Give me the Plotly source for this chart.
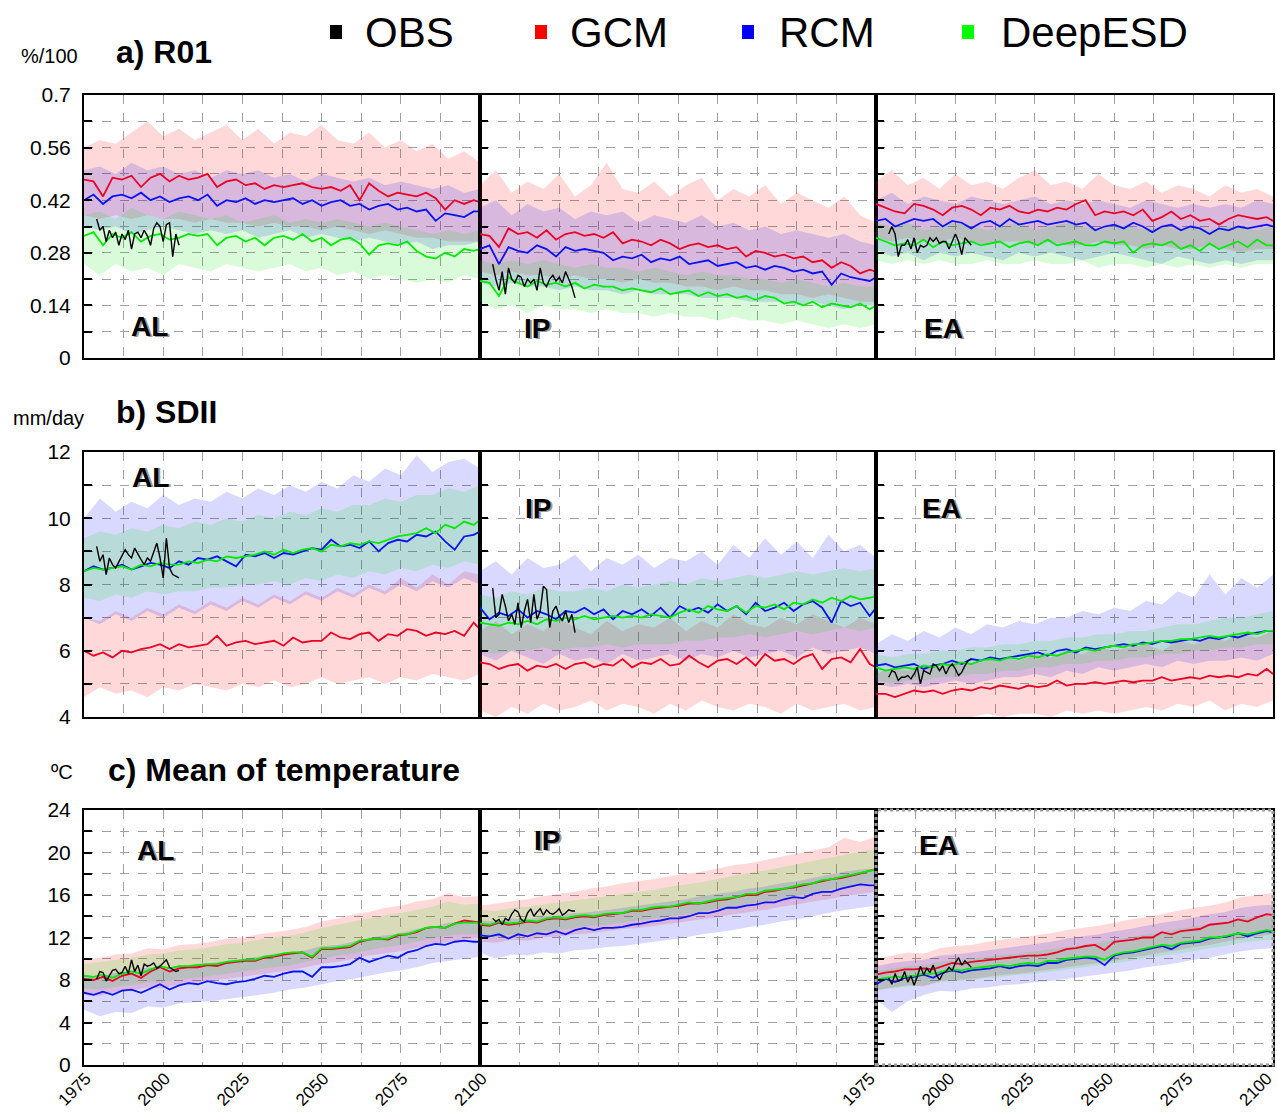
import plotly.graph_objects as go

W, H = 1277, 1115

# ---------------- data ----------------
YEARS_LINE = list(range(1975, 2099, 3)) + [2100]
YEARS_BAND = list(range(1975, 2101, 5))
YEARS_OBS = list(range(1979, 2006))

X_TICKS = [1975, 2000, 2025, 2050, 2075, 2100]
R01_TICKS = [0, 0.14, 0.28, 0.42, 0.56, 0.7]
R01_TICKTEXT = ["0", "0.14", "0.28", "0.42", "0.56", "0.7"]
SDII_TICKS = [4, 6, 8, 10, 12]
TMEAN_TICKS = [0, 4, 8, 12, 16, 20, 24]

REGIONS = ["AL", "IP", "EA"]
SERIES = ["OBS", "GCM", "RCM", "DeepESD"]

# ---- a) R01 ----
R01_AL_GCM = [.475, .47, .43, .48, .475, .485, .455, .48, .49, .47,
              .485, .475, .48, .49, .455, .47, .475, .46, .465, .45,
              .46, .455, .46, .465, .455, .45, .455, .445, .46, .42,
              .465, .445, .43, .44, .435, .43, .44, .425, .395, .42,
              .41, .42, .415]
R01_AL_RCM = [.42, .435, .41, .43, .435, .425, .44, .42, .43, .415,
              .425, .43, .42, .435, .405, .42, .415, .425, .41, .42,
              .415, .42, .425, .41, .42, .405, .415, .42, .405, .41,
              .395, .405, .41, .395, .40, .39, .395, .365, .385, .38,
              .375, .39, .39]
R01_AL_ESD = [.325, .335, .30, .33, .32, .335, .31, .325, .33, .315,
              .32, .33, .325, .33, .30, .32, .325, .31, .32, .30,
              .32, .325, .315, .33, .31, .32, .30, .315, .32, .305,
              .275, .30, .305, .30, .31, .285, .27, .265, .28, .27,
              .29, .285, .29]
R01_AL_OBS = [.37, .34, .35, .31, .34, .32, .335, .30, .33, .315,
              .34, .29, .33, .335, .32, .34, .325, .30, .345, .36,
              .35, .31, .355, .36, .27, .33, .30]
R01_AL_GCM_HI = [.56, .58, .57, .60, .63, .59, .61, .58, .60, .62, .58, .61, .57,
                 .60, .59, .62, .58, .57, .60, .56, .58, .55, .57, .53, .55, .52]
R01_AL_GCM_LO = [.38, .37, .38, .37, .38, .37, .37, .36, .37, .36, .36, .35, .36,
                 .35, .35, .34, .35, .34, .33, .34, .33, .32, .32, .31, .31, .31]
R01_AL_RCM_HI = [.50, .51, .49, .52, .50, .51, .49, .50, .48, .50, .49, .50, .48,
                 .49, .47, .49, .48, .47, .48, .46, .47, .46, .45, .46, .44, .45]
R01_AL_RCM_LO = [.35, .34, .35, .33, .34, .35, .34, .33, .34, .33, .34, .32, .33,
                 .34, .32, .33, .32, .31, .32, .31, .30, .31, .29, .30, .30, .31]
R01_AL_ESD_HI = [.38, .39, .37, .40, .38, .37, .39, .38, .37, .38, .36, .37, .38,
                 .36, .37, .36, .37, .36, .35, .36, .35, .34, .33, .34, .33, .34]
R01_AL_ESD_LO = [.25, .22, .25, .23, .24, .22, .25, .24, .23, .25, .24, .23, .24,
                 .25, .23, .24, .22, .23, .21, .22, .21, .20, .21, .20, .22, .21]

R01_IP_GCM = [.33, .325, .295, .345, .33, .335, .32, .34, .315, .33,
              .335, .325, .33, .32, .335, .305, .315, .31, .30, .315,
              .305, .29, .30, .305, .295, .30, .29, .295, .27, .285,
              .28, .27, .275, .265, .27, .255, .26, .24, .255, .245,
              .225, .235, .23]
R01_IP_RCM = [.29, .30, .25, .295, .285, .28, .30, .29, .27, .295,
              .285, .29, .285, .28, .26, .27, .265, .275, .255, .265,
              .26, .27, .25, .255, .26, .245, .25, .255, .24, .245,
              .235, .245, .24, .23, .235, .225, .23, .195, .225, .215,
              .21, .205, .215]
R01_IP_ESD = [.205, .20, .165, .215, .20, .19, .205, .195, .20, .19,
              .20, .185, .195, .19, .19, .18, .185, .18, .175, .185,
              .17, .175, .18, .165, .175, .165, .17, .16, .165, .155,
              .165, .16, .145, .15, .14, .15, .135, .145, .14, .135,
              .145, .13, .14]
R01_IP_OBS = [.25, .21, .18, .23, .17, .24, .21, .20, .22, .215,
              .19, .21, .20, .21, .18, .24, .20, .19, .21, .22,
              .205, .215, .20, .23, .21, .19, .16]
R01_IP_GCM_HI = [.46, .50, .44, .47, .45, .49, .43, .46, .52, .45, .44, .47, .43,
                 .46, .48, .42, .45, .43, .46, .41, .44, .42, .40, .43, .38, .36]
R01_IP_GCM_LO = [.23, .22, .23, .22, .22, .21, .22, .21, .21, .20, .21, .20, .20,
                 .19, .19, .18, .19, .18, .18, .17, .17, .16, .17, .16, .15, .15]
R01_IP_RCM_HI = [.40, .42, .38, .41, .39, .40, .37, .39, .38, .39, .36, .38, .37,
                 .36, .38, .35, .36, .34, .35, .33, .34, .33, .32, .33, .31, .30]
R01_IP_RCM_LO = [.20, .19, .20, .19, .19, .18, .19, .18, .18, .17, .18, .17, .17,
                 .17, .16, .16, .16, .15, .15, .15, .14, .15, .14, .13, .14, .14]
R01_IP_ESD_HI = [.26, .25, .26, .25, .26, .25, .24, .25, .24, .24, .23, .24, .23,
                 .22, .23, .22, .22, .21, .21, .20, .21, .20, .19, .20, .19, .19]
R01_IP_ESD_LO = [.15, .13, .14, .12, .14, .13, .13, .12, .13, .12, .12, .11, .12,
                 .11, .11, .10, .11, .10, .10, .09, .10, .09, .08, .09, .08, .09]

R01_EA_GCM = [.41, .40, .39, .385, .41, .405, .395, .38, .40, .405,
              .395, .38, .40, .395, .405, .39, .385, .395, .39, .40,
              .395, .41, .42, .38, .39, .385, .39, .38, .395, .365,
              .375, .39, .37, .38, .365, .37, .355, .37, .38, .375,
              .37, .375, .365]
R01_EA_RCM = [.365, .37, .35, .36, .37, .365, .37, .35, .365, .36,
              .345, .36, .365, .35, .37, .355, .36, .365, .355, .36,
              .365, .355, .36, .34, .35, .355, .345, .36, .35, .335,
              .35, .355, .34, .35, .345, .33, .345, .34, .35, .345,
              .35, .355, .35]
R01_EA_ESD = [.32, .31, .30, .305, .30, .315, .295, .31, .30, .305,
              .31, .30, .305, .31, .295, .305, .31, .30, .315, .30,
              .305, .31, .30, .30, .31, .305, .31, .28, .30, .305,
              .30, .31, .29, .30, .285, .305, .29, .30, .31, .295,
              .315, .30, .30]
R01_EA_OBS = [.33, .35, .33, .27, .30, .30, .315, .29, .32, .28,
              .30, .295, .30, .32, .31, .32, .305, .31, .31, .29,
              .31, .33, .31, .275, .32, .31, .30]
R01_EA_GCM_HI = [.47, .50, .46, .48, .45, .49, .46, .47, .45, .48, .50, .46, .47,
                 .45, .49, .46, .45, .47, .44, .46, .45, .43, .46, .44, .45, .43]
R01_EA_GCM_LO = [.32, .31, .32, .31, .31, .32, .31, .30, .31, .31, .30, .31, .30,
                 .30, .31, .30, .30, .29, .30, .29, .29, .30, .29, .28, .29, .29]
R01_EA_RCM_HI = [.42, .44, .41, .43, .42, .41, .43, .42, .41, .42, .43, .41, .42,
                 .41, .42, .41, .40, .42, .41, .40, .41, .40, .41, .40, .42, .41]
R01_EA_RCM_LO = [.29, .27, .28, .26, .28, .27, .28, .27, .26, .28, .27, .28, .27,
                 .26, .27, .28, .27, .26, .25, .27, .26, .25, .26, .25, .26, .26]
R01_EA_ESD_HI = [.36, .35, .36, .34, .35, .36, .35, .34, .35, .36, .34, .35, .36,
                 .35, .34, .35, .35, .34, .35, .34, .35, .34, .35, .35, .34, .35]
R01_EA_ESD_LO = [.26, .25, .26, .25, .26, .25, .25, .26, .25, .25, .26, .25, .25,
                 .26, .24, .25, .25, .24, .25, .24, .25, .24, .25, .24, .25, .25]

# ---- b) SDII ----
SDII_AL_GCM = [6.0, 5.85, 5.95, 5.8, 6.0, 5.95, 6.05, 6.1, 6.2, 6.05,
               6.2, 6.1, 6.15, 6.2, 6.45, 6.15, 6.25, 6.3, 6.2, 6.25,
               6.3, 6.15, 6.4, 6.25, 6.3, 6.3, 6.55, 6.4, 6.35, 6.5,
               6.55, 6.3, 6.5, 6.45, 6.65, 6.6, 6.45, 6.55, 6.5, 6.6,
               6.45, 6.85, 6.65]
SDII_AL_RCM = [8.4, 8.55, 8.45, 8.5, 8.6, 8.45, 8.55, 8.65, 8.6, 8.5,
               8.7, 8.6, 8.8, 8.75, 8.85, 8.7, 8.55, 8.9, 8.85, 8.95,
               8.8, 8.95, 8.9, 9.0, 9.1, 9.05, 9.35, 9.15, 9.2, 9.1,
               9.3, 9.0, 9.25, 9.35, 9.3, 9.5, 9.45, 9.6, 9.3, 9.05,
               9.45, 9.5, 9.6]
SDII_AL_ESD = [8.4, 8.5, 8.45, 8.5, 8.55, 8.45, 8.6, 8.55, 8.65, 8.6,
               8.6, 8.7, 8.65, 8.75, 8.7, 8.85, 8.8, 8.85, 8.9, 9.0,
               8.9, 9.05, 8.95, 9.05, 9.1, 9.0, 9.2, 9.15, 9.25, 9.2,
               9.3, 9.25, 9.35, 9.45, 9.5, 9.55, 9.7, 9.55, 9.8, 9.7,
               9.9, 9.8, 9.95]
SDII_AL_OBS = [9.15, 8.7, 8.9, 8.3, 8.8, 8.6, 8.5, 8.7, 8.9, 9.05,
               8.9, 8.8, 9.1, 8.9, 8.75, 8.6, 8.8, 8.7, 9.0, 9.25,
               8.8, 8.2, 9.4, 8.5, 8.3, 8.25, 8.2]
SDII_AL_GCM_HI = [7.0, 6.9, 7.2, 7.0, 7.3, 7.1, 7.4, 7.2, 7.5, 7.3, 7.6, 7.4, 7.7,
                  7.5, 7.8, 7.6, 7.9, 7.7, 8.0, 7.8, 8.2, 7.9, 8.3, 8.0, 8.4, 8.3]
SDII_AL_GCM_LO = [4.6, 4.9, 4.7, 4.8, 4.6, 4.9, 4.8, 5.0, 4.9, 4.8, 5.0, 4.9, 5.1,
                  4.9, 5.0, 5.2, 5.0, 5.1, 5.2, 5.0, 5.2, 5.1, 5.3, 5.2, 5.1, 5.3]
SDII_AL_RCM_HI = [10.0, 10.6, 10.2, 10.5, 10.3, 10.7, 10.4, 10.6, 10.5, 10.8, 10.6, 10.9, 10.7,
                  11.0, 10.8, 11.1, 10.9, 11.3, 11.1, 11.5, 11.3, 11.9, 11.4, 11.7, 11.8, 11.5]
SDII_AL_RCM_LO = [7.0, 6.8, 7.1, 6.9, 7.2, 7.0, 7.3, 7.1, 7.4, 7.2, 7.5, 7.3, 7.6,
                  7.4, 7.7, 7.5, 7.8, 7.6, 7.9, 7.7, 8.0, 7.8, 8.1, 7.9, 8.2, 8.0]
SDII_AL_ESD_HI = [9.4, 9.6, 9.5, 9.7, 9.6, 9.8, 9.7, 9.9, 9.8, 10.0, 9.9, 10.1, 10.0,
                  10.2, 10.1, 10.3, 10.2, 10.4, 10.4, 10.6, 10.5, 10.7, 10.7, 10.9, 10.8, 11.0]
SDII_AL_ESD_LO = [7.6, 7.5, 7.7, 7.6, 7.8, 7.7, 7.8, 7.8, 7.9, 7.9, 8.0, 8.0, 8.1,
                  8.0, 8.2, 8.1, 8.3, 8.2, 8.4, 8.3, 8.5, 8.4, 8.6, 8.5, 8.7, 8.6]

SDII_IP_GCM = [5.65, 5.6, 5.45, 5.55, 5.6, 5.4, 5.55, 5.5, 5.6, 5.45,
               5.6, 5.65, 5.5, 5.6, 5.55, 5.75, 5.5, 5.65, 5.6, 5.75,
               5.55, 5.6, 5.85, 5.65, 5.5, 5.7, 5.75, 5.6, 5.8, 5.55,
               5.9, 5.7, 5.75, 5.6, 5.8, 5.9, 5.45, 5.75, 5.8, 5.65,
               6.05, 5.6, 5.5]
SDII_IP_RCM = [7.3, 6.95, 7.15, 7.05, 7.25, 7.0, 7.2, 7.1, 6.95, 7.2,
               7.15, 7.3, 7.1, 7.25, 6.95, 7.2, 7.1, 7.25, 7.05, 7.3,
               7.0, 7.35, 7.2, 7.3, 7.15, 7.4, 7.2, 7.35, 7.1, 7.45,
               7.2, 7.3, 7.45, 7.2, 7.4, 7.5, 7.3, 6.85, 7.5, 7.35,
               7.45, 7.05, 7.3]
SDII_IP_ESD = [6.85, 6.8, 6.75, 6.85, 6.8, 6.9, 6.8, 6.95, 6.9, 7.0,
               6.95, 7.05, 6.95, 7.0, 7.05, 7.0, 7.05, 7.0, 7.1, 7.05,
               7.0, 7.15, 7.25, 7.15, 7.35, 7.25, 7.2, 7.35, 7.15, 7.35,
               7.3, 7.4, 7.25, 7.45, 7.4, 7.55, 7.45, 7.6, 7.5, 7.65,
               7.55, 7.6, 7.65]
SDII_IP_OBS = [7.9, 7.0, 7.1, 7.7, 7.35, 6.9, 7.1, 6.8, 7.45, 6.7,
               7.2, 7.55, 6.85, 7.7, 6.95, 7.2, 7.95, 7.85, 6.7, 7.2,
               7.35, 7.05, 6.9, 7.2, 6.85, 7.1, 6.55]
SDII_IP_GCM_HI = [6.6, 6.9, 6.5, 6.8, 6.6, 7.0, 6.7, 6.5, 6.9, 6.6, 6.8, 6.7, 7.0,
                  6.6, 6.9, 6.7, 7.1, 6.8, 6.7, 7.0, 6.8, 7.1, 6.9, 6.7, 7.0, 6.8]
SDII_IP_GCM_LO = [4.2, 4.0, 4.3, 4.1, 4.4, 4.2, 4.3, 4.5, 4.2, 4.4, 4.3, 4.1, 4.4,
                  4.2, 4.5, 4.3, 4.2, 4.4, 4.3, 4.1, 4.4, 4.2, 4.3, 4.4, 4.2, 4.3]
SDII_IP_RCM_HI = [8.4, 8.7, 8.3, 8.8, 8.5, 8.6, 8.9, 8.4, 8.8, 8.6, 8.9, 8.5, 8.8,
                  8.7, 9.0, 8.6, 9.2, 8.8, 9.4, 8.9, 9.3, 8.8, 9.5, 9.0, 9.2, 8.8]
SDII_IP_RCM_LO = [5.9, 5.7, 6.0, 5.8, 5.6, 5.9, 5.7, 5.8, 5.6, 5.9, 5.7, 5.8, 5.9,
                  5.7, 5.9, 5.8, 6.0, 5.8, 5.9, 6.0, 5.8, 6.1, 5.9, 6.0, 6.1, 5.9]
SDII_IP_ESD_HI = [7.7, 7.6, 7.8, 7.7, 7.9, 7.8, 7.8, 7.9, 7.8, 8.0, 7.9, 8.0, 8.1,
                  8.0, 8.2, 8.1, 8.2, 8.3, 8.2, 8.3, 8.4, 8.3, 8.4, 8.5, 8.4, 8.5]
SDII_IP_ESD_LO = [6.0, 5.9, 6.0, 6.0, 6.1, 6.0, 6.1, 6.1, 6.2, 6.1, 6.2, 6.2, 6.2,
                  6.3, 6.3, 6.4, 6.4, 6.5, 6.4, 6.5, 6.6, 6.5, 6.6, 6.7, 6.6, 6.7]

SDII_EA_GCM = [4.7, 4.7, 4.6, 4.7, 4.8, 4.75, 4.8, 4.7, 4.8, 4.85,
               4.8, 4.9, 4.85, 4.95, 4.9, 4.85, 4.95, 4.9, 4.95, 5.1,
               4.95, 5.0, 5.0, 5.05, 5.0, 5.05, 5.1, 5.05, 5.1, 5.1,
               5.2, 5.1, 5.15, 5.2, 5.15, 5.25, 5.2, 5.25, 5.2, 5.3,
               5.25, 5.45, 5.3]
SDII_EA_RCM = [5.55, 5.6, 5.5, 5.55, 5.6, 5.45, 5.55, 5.6, 5.7, 5.6,
               5.75, 5.7, 5.8, 5.75, 5.8, 5.85, 5.9, 5.95, 5.85, 6.0,
               6.05, 5.95, 6.1, 6.05, 6.1, 6.15, 6.2, 6.15, 6.25, 6.2,
               6.3, 6.25, 6.3, 6.35, 6.3, 6.4, 6.35, 6.45, 6.4, 6.5,
               6.55, 6.6, 6.6]
SDII_EA_ESD = [5.5, 5.4, 5.45, 5.5, 5.45, 5.55, 5.5, 5.6, 5.55, 5.65,
               5.6, 5.7, 5.75, 5.7, 5.8, 5.75, 5.85, 5.8, 5.9, 5.85,
               5.95, 6.0, 6.05, 6.0, 6.1, 6.15, 6.1, 6.2, 6.2, 6.25,
               6.3, 6.3, 6.35, 6.35, 6.4, 6.45, 6.4, 6.45, 6.5, 6.55,
               6.5, 6.6, 6.6]
SDII_EA_OBS = [5.2, 5.4, 5.35, 5.1, 5.2, 5.2, 5.25, 5.15, 5.3, 5.5,
               5.0, 5.4, 5.35, 5.3, 5.6, 5.55, 5.4, 5.55, 5.3, 5.5,
               5.6, 5.45, 5.25, 5.35, 5.55, 5.7, 5.75]
SDII_EA_GCM_HI = [5.3, 5.5, 5.4, 5.6, 5.5, 5.7, 5.6, 5.7, 5.8, 5.7, 5.9, 5.8, 6.0,
                  5.9, 6.1, 6.0, 6.1, 6.2, 6.0, 6.3, 6.2, 6.4, 6.3, 6.5, 6.4, 6.6]
SDII_EA_GCM_LO = [3.9, 3.9, 4.0, 3.9, 4.0, 4.0, 4.0, 4.1, 4.0, 4.1, 4.1, 4.0, 4.2,
                  4.1, 4.2, 4.1, 4.2, 4.3, 4.2, 4.4, 4.3, 4.5, 4.2, 4.4, 4.3, 4.5]
SDII_EA_RCM_HI = [6.2, 6.5, 6.3, 6.6, 6.4, 6.7, 6.5, 6.8, 6.7, 6.9, 6.8, 7.0, 7.0,
                  7.2, 7.1, 7.3, 7.2, 7.5, 7.4, 7.8, 7.6, 8.3, 7.7, 8.2, 7.9, 8.3]
SDII_EA_RCM_LO = [5.0, 4.9, 5.0, 4.9, 5.0, 5.1, 5.0, 5.1, 5.2, 5.2, 5.3, 5.2, 5.4,
                  5.3, 5.5, 5.4, 5.5, 5.6, 5.5, 5.7, 5.6, 5.7, 5.7, 5.8, 5.7, 5.9]
SDII_EA_ESD_HI = [5.9, 5.8, 5.9, 5.9, 6.0, 6.0, 6.1, 6.1, 6.2, 6.2, 6.3, 6.3, 6.4,
                  6.4, 6.5, 6.5, 6.6, 6.6, 6.7, 6.8, 6.8, 6.9, 7.0, 7.0, 7.1, 7.2]
SDII_EA_ESD_LO = [5.1, 5.0, 5.1, 5.1, 5.2, 5.2, 5.3, 5.3, 5.4, 5.4, 5.5, 5.5, 5.6,
                  5.6, 5.7, 5.7, 5.8, 5.8, 5.9, 5.9, 6.0, 6.0, 6.1, 6.1, 6.2, 6.2]

# ---- c) Mean of temperature ----
TMEAN_AL_GCM = [8.1, 8.0, 8.3, 7.9, 8.4, 8.6, 8.2, 8.8, 9.2, 8.8,
                9.1, 9.2, 9.2, 9.4, 9.3, 9.6, 9.7, 9.8, 9.8, 10.1,
                10.2, 10.4, 10.5, 10.6, 10.1, 10.9, 10.9, 11.0, 11.1, 11.6,
                11.8, 11.9, 11.8, 12.2, 12.3, 12.5, 12.9, 13.0, 12.9, 13.3,
                13.6, 13.5, 13.4]
TMEAN_AL_RCM = [6.8, 6.6, 6.9, 6.6, 7.0, 7.1, 6.8, 7.2, 7.6, 7.1,
                7.5, 7.7, 7.6, 7.9, 7.7, 7.6, 7.8, 7.9, 8.1, 8.4,
                8.3, 8.6, 8.8, 8.8, 8.3, 9.2, 9.2, 9.3, 9.5, 10.1,
                9.7, 10.0, 10.3, 10.1, 10.6, 10.8, 11.2, 11.4, 11.3, 11.6,
                11.7, 11.6, 11.6]
TMEAN_AL_ESD = [8.4, 8.3, 8.5, 8.2, 8.6, 8.8, 8.6, 9.0, 9.3, 9.1,
                9.3, 9.3, 9.4, 9.5, 9.5, 9.7, 9.8, 9.9, 9.9, 10.2,
                10.3, 10.5, 10.6, 10.6, 10.2, 11.0, 11.0, 11.1, 11.2, 11.7,
                11.8, 11.9, 11.9, 12.3, 12.3, 12.6, 12.9, 13.0, 12.9, 13.3,
                13.4, 13.4, 13.4]
TMEAN_AL_OBS = [8.1, 8.8, 8.7, 7.9, 8.4, 8.9, 9.0, 8.6, 8.7, 9.3,
                8.6, 9.9, 8.8, 9.4, 8.4, 9.5, 9.3, 9.4, 9.6, 9.1,
                9.3, 9.6, 9.9, 9.2, 9.0, 8.8, 8.9]
TMEAN_AL_GCM_HI = [9.9, 10.1, 10.4, 10.5, 11.0, 10.9, 11.3, 11.4, 11.6, 11.9, 12.0, 12.3, 12.5,
                   12.7, 13.0, 13.5, 13.8, 14.2, 14.4, 14.8, 15.0, 15.4, 15.6, 16.2, 15.8, 15.9]
TMEAN_AL_GCM_LO = [6.6, 6.5, 6.9, 7.0, 7.3, 7.2, 7.6, 7.7, 8.0, 8.1, 8.3, 8.5, 8.7,
                   8.9, 9.2, 9.5, 9.7, 10.0, 10.3, 10.5, 10.7, 11.0, 11.3, 11.6, 11.8, 12.0]
TMEAN_AL_RCM_HI = [8.4, 8.3, 8.7, 8.8, 9.2, 9.0, 9.3, 9.5, 9.6, 9.8, 10.0, 10.2, 10.5,
                   10.6, 10.8, 11.2, 11.3, 11.6, 12.0, 12.2, 12.4, 12.8, 13.0, 13.4, 13.5, 13.6]
TMEAN_AL_RCM_LO = [5.2, 4.6, 5.0, 4.9, 5.5, 5.4, 5.8, 5.9, 6.0, 6.2, 6.4, 6.6, 6.8,
                   7.1, 7.3, 7.6, 7.9, 8.1, 8.4, 8.7, 8.9, 9.2, 9.6, 9.8, 10.0, 10.2]
TMEAN_AL_ESD_HI = [9.5, 9.7, 9.9, 10.1, 10.4, 10.5, 10.8, 10.9, 11.1, 11.4, 11.5, 11.8, 12.0,
                   12.2, 12.5, 12.9, 13.2, 13.5, 13.8, 14.1, 14.3, 14.6, 14.9, 15.4, 15.1, 15.2]
TMEAN_AL_ESD_LO = [7.2, 7.1, 7.4, 7.5, 7.8, 7.8, 8.1, 8.2, 8.4, 8.6, 8.8, 9.0, 9.2,
                   9.4, 9.7, 10.0, 10.3, 10.5, 10.8, 11.1, 11.3, 11.6, 11.9, 12.2, 12.3, 12.3]

TMEAN_IP_GCM = [13.2, 13.1, 13.4, 13.2, 13.3, 13.5, 13.4, 13.7, 13.8, 13.7,
                13.9, 14.0, 13.9, 14.1, 14.2, 14.3, 14.5, 14.5, 14.7, 14.8,
                14.9, 15.0, 15.2, 15.2, 15.3, 15.5, 15.6, 15.8, 16.0, 16.0,
                16.3, 16.4, 16.6, 16.7, 16.9, 17.1, 17.3, 17.5, 17.6, 17.8,
                18.0, 18.3, 18.4]
TMEAN_IP_RCM = [12.2, 12.1, 12.3, 11.9, 12.3, 12.1, 12.4, 12.3, 12.6, 12.3,
                12.7, 12.9, 12.7, 12.9, 12.9, 13.0, 13.2, 13.3, 13.5, 13.6,
                13.8, 13.8, 14.0, 14.3, 14.3, 14.5, 14.8, 14.8, 15.0, 15.1,
                15.3, 15.3, 15.6, 15.8, 15.7, 16.1, 16.3, 16.3, 16.6, 16.8,
                17.0, 16.9, 16.9]
TMEAN_IP_ESD = [13.3, 13.2, 13.5, 13.3, 13.4, 13.6, 13.5, 13.8, 13.9, 13.8,
                14.0, 14.1, 14.0, 14.2, 14.3, 14.3, 14.6, 14.6, 14.8, 14.9,
                14.9, 15.1, 15.3, 15.2, 15.4, 15.6, 15.7, 15.8, 16.1, 16.1,
                16.4, 16.5, 16.6, 16.8, 17.0, 17.1, 17.4, 17.5, 17.7, 17.9,
                18.1, 18.3, 18.4]
TMEAN_IP_OBS = [13.8, 13.5, 13.7, 13.2, 13.8, 13.6, 14.2, 14.6, 14.4, 13.7,
                13.5, 14.3, 14.7, 14.0, 14.4, 14.7, 14.1, 14.6, 14.3, 14.2,
                14.4, 14.7, 14.1, 14.3, 14.6, 14.5, 14.5]
TMEAN_IP_GCM_HI = [15.0, 15.2, 15.4, 15.6, 15.9, 16.1, 16.3, 16.6, 16.8, 17.1, 17.3, 17.5, 17.8,
                   18.0, 18.2, 18.5, 18.8, 19.0, 19.3, 19.6, 19.9, 20.2, 20.5, 21.4, 21.0, 21.5]
TMEAN_IP_GCM_LO = [11.6, 11.5, 11.8, 11.7, 12.0, 12.1, 12.3, 12.4, 12.6, 12.8, 12.9, 13.1, 13.3,
                   13.5, 13.7, 13.9, 14.2, 14.4, 14.6, 14.9, 15.1, 15.4, 15.6, 15.9, 16.1, 16.3]
TMEAN_IP_RCM_HI = [13.6, 13.5, 13.8, 13.7, 14.0, 14.1, 14.3, 14.4, 14.6, 14.8, 15.0, 15.2, 15.4,
                   15.6, 15.9, 16.1, 16.3, 16.6, 16.8, 17.1, 17.3, 17.6, 17.9, 18.2, 18.4, 18.5]
TMEAN_IP_RCM_LO = [10.6, 10.0, 10.4, 10.3, 10.6, 10.5, 10.8, 10.9, 11.1, 11.2, 11.4, 11.6, 11.8,
                   12.0, 12.3, 12.5, 12.7, 13.0, 13.2, 13.5, 13.7, 14.0, 14.3, 14.6, 14.8, 15.0]
TMEAN_IP_ESD_HI = [14.6, 14.5, 14.8, 14.9, 15.1, 15.3, 15.5, 15.7, 15.9, 16.1, 16.3, 16.5, 16.8,
                   17.0, 17.2, 17.5, 17.8, 18.1, 18.3, 18.6, 18.9, 19.2, 19.5, 19.8, 20.1, 20.3]
TMEAN_IP_ESD_LO = [12.1, 12.0, 12.3, 12.4, 12.6, 12.7, 12.9, 13.1, 13.2, 13.4, 13.6, 13.8, 14.0,
                   14.2, 14.4, 14.7, 14.9, 15.2, 15.4, 15.7, 15.9, 16.2, 16.5, 16.8, 17.0, 17.2]

TMEAN_EA_GCM = [8.5, 8.7, 8.8, 9.0, 9.0, 9.1, 9.0, 9.3, 9.6, 9.5,
                9.7, 9.8, 9.9, 10.0, 10.1, 10.2, 10.3, 10.3, 10.4, 10.6,
                10.9, 11.0, 11.2, 11.3, 10.8, 11.6, 11.7, 11.8, 12.0, 12.0,
                12.5, 12.3, 12.6, 12.7, 12.8, 13.2, 13.3, 13.4, 13.7, 13.5,
                13.9, 14.2, 14.1]
TMEAN_EA_RCM = [7.6, 8.1, 7.8, 8.2, 8.3, 8.5, 8.2, 8.7, 8.9, 8.7,
                8.9, 9.0, 9.1, 9.3, 9.1, 9.3, 9.4, 9.3, 9.6, 9.6,
                9.9, 10.0, 10.1, 10.0, 9.4, 10.3, 10.5, 10.6, 10.8, 11.0,
                11.2, 10.9, 11.4, 11.5, 11.6, 11.9, 12.0, 12.1, 12.4, 12.1,
                12.4, 12.6, 12.5]
TMEAN_EA_ESD = [8.0, 8.2, 8.3, 8.3, 8.4, 8.6, 8.6, 8.8, 9.0, 8.9,
                9.1, 9.2, 9.3, 9.4, 9.3, 9.5, 9.6, 9.5, 9.8, 9.8,
                10.0, 10.1, 10.2, 10.2, 9.9, 10.4, 10.6, 10.7, 10.9, 11.1,
                11.3, 11.2, 11.5, 11.6, 11.7, 12.0, 12.0, 12.2, 12.4, 12.3,
                12.5, 12.7, 12.6]
TMEAN_EA_OBS = [8.2, 7.6, 8.6, 7.9, 8.0, 8.8, 7.8, 8.4, 7.5, 8.3,
                9.3, 8.5, 9.1, 8.7, 9.4, 8.5, 8.0, 8.6, 8.8, 9.2,
                8.9, 9.6, 10.1, 9.4, 9.8, 9.5, 9.2]
TMEAN_EA_GCM_HI = [10.0, 10.3, 10.6, 10.5, 11.0, 11.2, 11.3, 11.6, 11.8, 12.0, 12.2, 12.4, 12.7,
                   12.9, 13.1, 13.4, 13.7, 13.9, 14.2, 14.5, 14.8, 15.0, 15.3, 15.8, 16.0, 16.2]
TMEAN_EA_GCM_LO = [7.0, 7.3, 7.5, 7.4, 7.9, 8.0, 8.1, 8.3, 8.5, 8.6, 8.8, 9.0, 9.2,
                   9.4, 9.6, 9.8, 10.1, 10.3, 10.6, 10.8, 11.1, 11.3, 11.6, 11.9, 12.1, 12.3]
TMEAN_EA_RCM_HI = [9.3, 9.6, 9.8, 9.9, 10.3, 10.4, 10.6, 10.8, 11.0, 11.2, 11.4, 11.6, 11.9,
                   12.1, 12.3, 12.6, 12.8, 13.1, 13.4, 13.6, 13.9, 14.2, 14.4, 14.8, 15.0, 15.1]
TMEAN_EA_RCM_LO = [6.2, 5.0, 6.0, 6.6, 7.0, 6.9, 7.2, 7.3, 7.5, 7.6, 7.8, 7.9, 8.1,
                   8.3, 8.5, 8.7, 8.9, 9.2, 9.4, 9.6, 9.9, 10.1, 10.4, 10.7, 10.9, 11.0]
TMEAN_EA_ESD_HI = [8.9, 9.1, 9.3, 9.4, 9.7, 9.9, 10.0, 10.2, 10.4, 10.5, 10.7, 10.9, 11.1,
                   11.3, 11.5, 11.8, 12.0, 12.3, 12.5, 12.8, 13.0, 13.3, 13.5, 13.8, 14.0, 14.1]
TMEAN_EA_ESD_LO = [7.1, 7.2, 7.4, 7.5, 7.8, 7.9, 8.0, 8.2, 8.3, 8.5, 8.6, 8.8, 9.0,
                   9.2, 9.4, 9.6, 9.8, 10.1, 10.3, 10.5, 10.7, 11.0, 11.2, 11.5, 11.7, 11.8]

# ---------------- styling ----------------
FONT = "Liberation Sans, Arial, Helvetica, sans-serif"
LINE_COLORS = {"GCM": "#ea0025", "RCM": "#0a14ee", "ESD": "#00ea00", "OBS": "#000000"}
BAND_COLORS = {"GCM": "rgba(255,0,0,0.15)", "RCM": "rgba(0,0,255,0.15)",
               "ESD": "rgba(0,225,0,0.15)"}
LEGEND_COLORS = ["#000000", "#ff0000", "#0000ff", "#00ff00"]

COL_PX = [(84, 480), (480, 876), (876, 1273)]
ROW_PX = [(95, 358), (452, 717), (810, 1065)]

ROWS = [
    dict(key="R01", rng=[0, 0.7], ticks=R01_TICKS, text=R01_TICKTEXT, m0=0, mdt=0.07),
    dict(key="SDII", rng=[4, 12], ticks=SDII_TICKS, text=[str(v) for v in SDII_TICKS], m0=4, mdt=1),
    dict(key="TMEAN", rng=[0, 24], ticks=TMEAN_TICKS, text=[str(v) for v in TMEAN_TICKS], m0=0, mdt=2),
]

G = globals()


def px_x(p):
    return p / W


def px_y(p):
    return 1 - p / H


fig = go.Figure()
layout_axes = {}
GRID = "#a0a0a0"

for r, row in enumerate(ROWS):
    for c, reg in enumerate(REGIONS):
        k = r * 3 + c + 1
        sfx = "" if k == 1 else str(k)
        xa, ya = "x" + sfx, "y" + sfx
        pre = f"{row['key']}_{reg}_"
        for s in ["GCM", "RCM", "ESD"]:
            hi, lo = G[pre + s + "_HI"], G[pre + s + "_LO"]
            fig.add_trace(go.Scatter(
                x=YEARS_BAND + YEARS_BAND[::-1], y=hi + lo[::-1],
                fill="toself", fillcolor=BAND_COLORS[s], mode="lines",
                line=dict(width=0), hoverinfo="skip", xaxis=xa, yaxis=ya))
        for s in ["GCM", "RCM", "ESD"]:
            fig.add_trace(go.Scatter(
                x=YEARS_LINE, y=G[pre + s], mode="lines",
                line=dict(color=LINE_COLORS[s], width=1.8), xaxis=xa, yaxis=ya))
        fig.add_trace(go.Scatter(
            x=YEARS_OBS, y=G[pre + "OBS"], mode="lines",
            line=dict(color=LINE_COLORS["OBS"], width=1.4), xaxis=xa, yaxis=ya))

        x0, x1 = COL_PX[c]
        y0, y1 = ROW_PX[r]
        layout_axes["xaxis" + sfx] = dict(
            domain=[px_x(x0), px_x(x1)], anchor=ya, range=[1975, 2100],
            automargin=False, ticklabeloverflow="allow", ticklabelstandoff=-5,
            ticklabelshift=(-6 if c == 2 else 2),
            tickmode="array", tickvals=X_TICKS, ticktext=[str(v) for v in X_TICKS],
            showticklabels=(r == 2 and c != 1), tickangle=-45,
            tickfont=dict(family=FONT, size=17, color="black"),
            showgrid=True, gridcolor=GRID, griddash="dash", gridwidth=1,
            minor=dict(tickmode="linear", tick0=1975, dtick=12.5, showgrid=True,
                       gridcolor=GRID, griddash="dash", gridwidth=1),
            showline=True, mirror=True, linecolor="black", linewidth=2,
            ticks="", zeroline=False)
        layout_axes["yaxis" + sfx] = dict(
            domain=[px_y(y1), px_y(y0)], anchor=xa, range=row["rng"],
            automargin=False,
            tickmode="array", tickvals=row["ticks"], ticktext=row["text"],
            showticklabels=(c == 0), ticklabelstandoff=7,
            tickfont=dict(family=FONT, size=21, color="black"),
            ticks="inside", ticklen=8, tickcolor="black", tickwidth=1.5,
            showgrid=True, gridcolor=GRID, griddash="dash", gridwidth=1,
            minor=dict(tickmode="linear", tick0=row["m0"], dtick=row["mdt"],
                       showgrid=True, gridcolor=GRID, griddash="dash", gridwidth=1,
                       ticks="inside", ticklen=8, tickcolor="black", tickwidth=1.5),
            showline=True, mirror=True, linecolor="black", linewidth=2,
            zeroline=False)

annotations = []


def add_text(text, x, y, size, bold=False, color="black", xanchor="left"):
    annotations.append(dict(
        text=f"<b>{text}</b>" if bold else text, x=px_x(x), y=px_y(y),
        xref="paper", yref="paper", xanchor=xanchor, yanchor="middle",
        showarrow=False, font=dict(family=FONT, size=size, color=color)))


# units and titles
add_text("%/100", 19, 56, 20)
add_text("a) R01", 114, 52, 32, bold=True)
add_text("mm/day", 11, 418, 20)
add_text("b) SDII", 114, 412, 32, bold=True)
add_text("ºC", 49, 772, 20)
add_text("c) Mean of temperature", 106, 770, 32, bold=True)

# panel labels (with soft shadow)
PANEL_LABEL_POS = [
    [(149, 326), (537, 328), (943, 328)],
    [(150, 477), (538, 508), (941, 508)],
    [(155, 850), (547, 840), (938, 845)],
]
for r in range(3):
    for c, reg in enumerate(REGIONS):
        cx, cy = PANEL_LABEL_POS[r][c]
        add_text(reg, cx + 2, cy + 1, 28, bold=True, color="#9a9a9a", xanchor="center")
        add_text(reg, cx, cy, 28, bold=True, xanchor="center")

# legend
LEGEND_SQ_X = [336, 541, 748, 968]
LEGEND_TXT_X = [363, 568, 777, 999]
shapes = []
for i, name in enumerate(SERIES):
    sx = LEGEND_SQ_X[i]
    shapes.append(dict(type="rect", xref="paper", yref="paper",
                       x0=px_x(sx - 6), x1=px_x(sx + 6), y0=px_y(39), y1=px_y(25),
                       fillcolor=LEGEND_COLORS[i], line=dict(width=0)))
    add_text(name, LEGEND_TXT_X[i], 32, 42)

# dotted border for the last panel
shapes.append(dict(type="rect", xref="x9 domain", yref="y9 domain", x0=0, x1=1, y0=0, y1=1,
                   line=dict(color="#9a9a9a", width=3, dash="dot"), layer="above"))

fig.update_layout(
    width=W, height=H, margin=dict(l=0, r=0, t=0, b=0, autoexpand=False),
    paper_bgcolor="white", plot_bgcolor="white", showlegend=False,
    annotations=annotations, shapes=shapes, **layout_axes)

fig.write_html("out.html")
